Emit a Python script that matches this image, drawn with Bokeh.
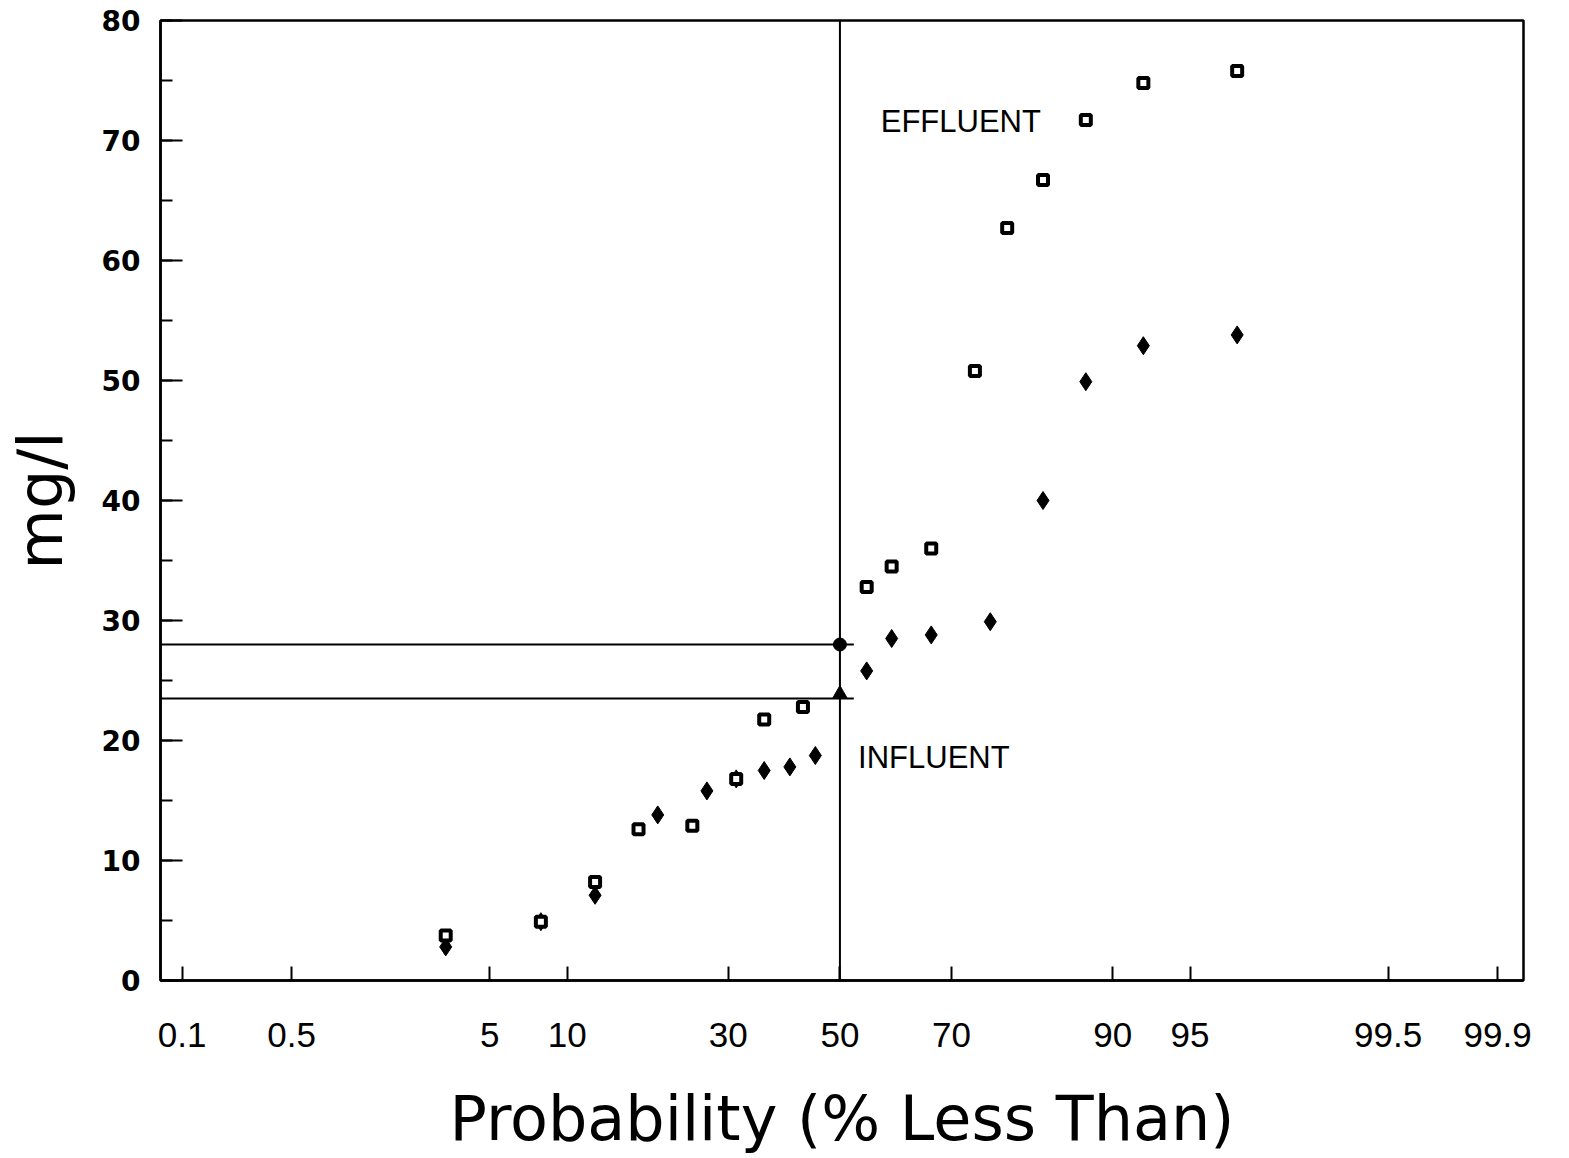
from statistics import NormalDist
from bokeh.plotting import figure
from bokeh.models import Range1d, FixedTicker, SingleIntervalTicker, Label
from bokeh.embed import file_html
from bokeh.resources import INLINE

# ---------------- data ----------------
prob_ticks = [0.1, 0.5, 5, 10, 30, 50, 70, 90, 95, 99.5, 99.9]
prob_tick_labels = ["0.1", "0.5", "5", "10", "30", "50", "70", "90", "95", "99.5", "99.9"]

eff_prob = [3.2, 8.0, 12.5, 17.2, 24.4, 31.3, 36.1, 43.1, 55.0, 59.6, 66.6, 73.7, 78.4, 83.0, 87.6, 92.3, 96.9]
eff_mg = [3.75, 4.9, 8.2, 12.6, 12.9, 16.8, 21.75, 22.8, 32.8, 34.5, 36.0, 50.8, 62.7, 66.7, 71.7, 74.8, 75.8]

inf_prob = [3.2, 8.0, 12.5, 19.6, 26.6, 31.3, 36.1, 40.7, 45.4, 55.0, 59.6, 66.6, 76.0, 83.0, 87.6, 92.3, 96.9]
inf_mg = [2.8, 4.9, 7.1, 13.8, 15.8, 16.8, 17.5, 17.8, 18.75, 25.8, 28.5, 28.8, 29.9, 40.0, 49.9, 52.9, 53.8]

median_prob = 50
eff_median = 28.0
inf_median_line = 23.5
inf_median_marker = 23.9
median_line_end_prob = 52.6

eff_label = ("EFFLUENT", 57.6, 71.6)
inf_label = ("INFLUENT", 53.4, 18.6)

x_lo_prob, x_hi_prob = 0.0706, 99.934   # probability at frame edges

nd = NormalDist()
def z(p):
    return nd.inv_cdf(p / 100.0)

x_lo, x_hi = z(x_lo_prob), z(x_hi_prob)

p = figure(width=1569, height=1158, output_backend="svg", toolbar_location=None,
           x_range=Range1d(x_lo, x_hi), y_range=Range1d(0, 80),
           min_border_left=159, min_border_right=46, min_border_top=20, min_border_bottom=178,
           background_fill_color="white", border_fill_color="white")

p.grid.visible = False
p.outline_line_color = "black"
p.outline_line_width = 2.5

# x axis (normal probability scale)
tick_z = [round(z(v), 6) for v in prob_ticks]
p.xaxis.ticker = FixedTicker(ticks=tick_z)
p.xaxis.major_label_overrides = {t: lab for t, lab in zip(tick_z, prob_tick_labels)}
p.xaxis.minor_tick_line_color = None
p.xaxis.major_tick_in = 14
p.xaxis.major_tick_out = 0
p.xaxis.major_tick_line_width = 2
p.xaxis.axis_line_width = 2.5
p.xaxis.major_label_standoff = 42
p.xaxis.major_label_text_font = "Liberation Sans"
p.xaxis.major_label_text_font_size = "35px"
p.xaxis.major_label_text_color = "black"
p.xaxis.axis_label = "Probability (% Less Than)"
p.xaxis.axis_label_text_font = "DejaVu Sans"
p.xaxis.axis_label_text_font_size = "62px"
p.xaxis.axis_label_text_font_style = "normal"
p.xaxis.axis_label_text_color = "black"
p.xaxis.axis_label_standoff = 32

# y axis
p.yaxis.ticker = SingleIntervalTicker(interval=10, num_minor_ticks=2)
p.yaxis.major_tick_in = 22
p.yaxis.major_tick_out = 0
p.yaxis.minor_tick_in = 12
p.yaxis.minor_tick_out = 0
p.yaxis.major_tick_line_width = 2
p.yaxis.minor_tick_line_width = 2
p.yaxis.axis_line_width = 2.5
p.yaxis.major_label_standoff = 20
p.yaxis.major_label_text_font = "DejaVu Sans"
p.yaxis.major_label_text_font_style = "bold"
p.yaxis.major_label_text_font_size = "28px"
p.yaxis.major_label_text_color = "black"
p.yaxis.axis_label = "mg/l"
p.yaxis.axis_label_text_font = "DejaVu Sans"
p.yaxis.axis_label_text_font_size = "62px"
p.yaxis.axis_label_text_font_style = "normal"
p.yaxis.axis_label_text_color = "black"
p.yaxis.axis_label_standoff = 22

# reference lines
p.segment(x0=[z(median_prob)], y0=[0], x1=[z(median_prob)], y1=[80], line_color="black", line_width=2)
p.segment(x0=[x_lo, x_lo], y0=[eff_median, inf_median_line],
          x1=[z(median_line_end_prob)] * 2, y1=[eff_median, inf_median_line],
          line_color="black", line_width=2)

# data
p.scatter([z(v) for v in inf_prob], inf_mg, marker="diamond", size=18,
          fill_color="black", line_color="black", line_width=1)
p.scatter([z(v) for v in eff_prob], eff_mg, marker="square", size=10,
          fill_color="white", line_color="black", line_width=4)

# median markers
p.scatter([z(median_prob)], [eff_median], marker="circle", size=13, fill_color="black", line_color="black")
p.scatter([z(median_prob)], [inf_median_marker], marker="triangle", size=14, fill_color="black", line_color="black")

for txt, px, py in (eff_label, inf_label):
    p.add_layout(Label(x=z(px), y=py, text=txt, text_font="Liberation Sans",
                       text_font_size="31px", text_color="black",
                       text_baseline="middle", text_align="left"))

open("out.html", "w").write(file_html(p, INLINE))
